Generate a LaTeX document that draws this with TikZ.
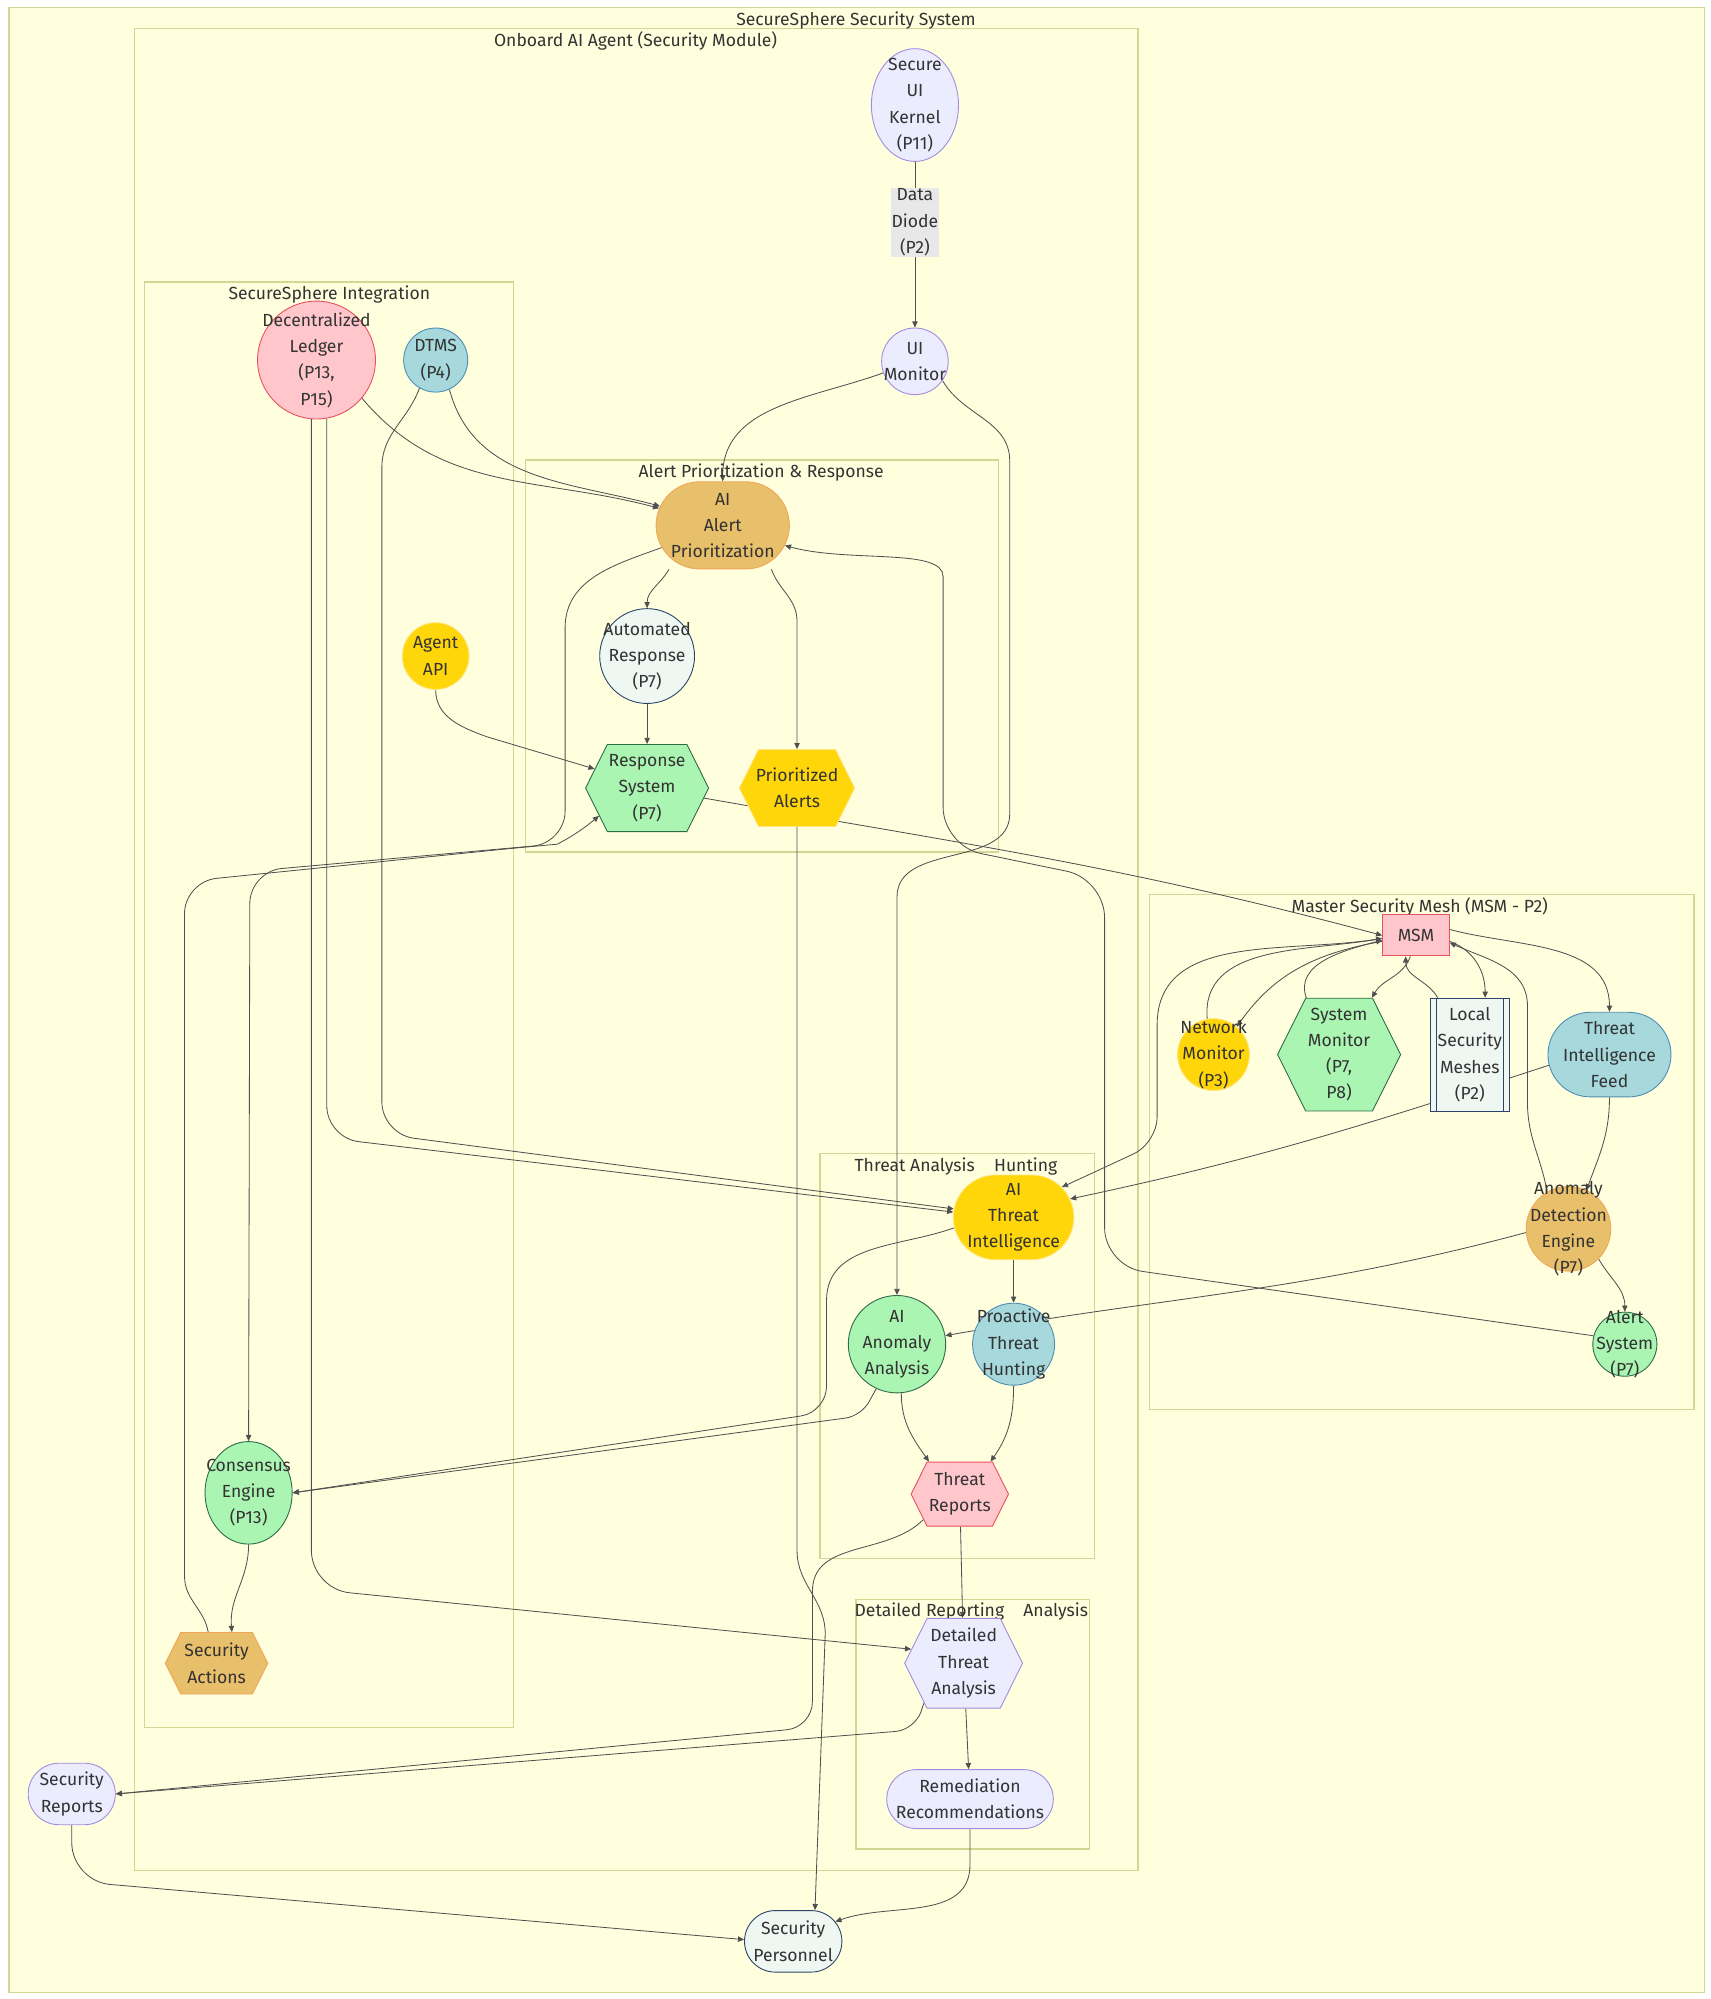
\documentclass[tikz,border=0pt]{standalone}
\usepackage{fontspec}
\setmainfont{Fira Sans}
\usetikzlibrary{shapes.geometric,shapes.misc,shapes.symbols,arrows.meta}

\definecolor{ink}{HTML}{333333}
\definecolor{wirecol}{HTML}{505050}
\definecolor{clfill}{HTML}{FFFFDE}
\definecolor{clline}{HTML}{D6D694}
\definecolor{lavfill}{HTML}{ECECFF}
\definecolor{lavline}{HTML}{A48BE0}
\definecolor{pinkfill}{HTML}{FFC7CC}
\definecolor{pinkline}{HTML}{E8505F}
\definecolor{bluefill}{HTML}{A6D8DC}
\definecolor{blueline}{HTML}{4F8DB3}
\definecolor{orfill}{HTML}{E8BF6A}
\definecolor{orline}{HTML}{F2A65A}
\definecolor{goldfill}{HTML}{FFD60A}
\definecolor{goldline}{HTML}{FFE57A}
\definecolor{grnfill}{HTML}{ABF5B3}
\definecolor{grnline}{HTML}{2F6B48}
\definecolor{hdfill}{HTML}{EFF7F2}
\definecolor{hdline}{HTML}{2B4468}
\definecolor{diodefill}{HTML}{E8E8E8}

\newcommand\dgfont{\fontsize{13.7}{20.5}\selectfont}
\pgfdeclarelayer{back}
\pgfdeclarelayer{wires}
\pgfsetlayers{back,wires,main}

\begin{document}
\begin{tikzpicture}[x=1pt,y=1pt,font=\dgfont,
    txt/.style={label={[text=ink,align=center,font=\dgfont]center:#1}},
    circ/.style={circle,inner sep=0pt,minimum size=#1},
    ellip/.style={ellipse,inner sep=0pt},
    stad/.style={rounded rectangle,inner sep=0pt},
    hexa/.style={signal,signal to=east and west,signal pointer angle=127,inner sep=0pt},
    box/.style={rectangle,inner sep=0pt},
    lav/.style={draw=lavline,fill=lavfill,line width=0.7pt},
    pink/.style={draw=pinkline,fill=pinkfill,line width=0.7pt},
    blue/.style={draw=blueline,fill=bluefill,line width=0.7pt},
    orng/.style={draw=orline,fill=orfill,line width=0.7pt},
    gold/.style={draw=goldline,fill=goldfill,line width=0.7pt},
    grn/.style={draw=grnline,fill=grnfill,line width=0.7pt},
    hd/.style={draw=hdline,fill=hdfill,line width=0.7pt},
    cluster/.style={draw=clline,fill=clfill,line width=1pt},
    ctitle/.style={text=ink,inner sep=0pt},
    diode/.style={fill=diodefill,text=ink,align=center,inner sep=0.5pt},
    wire/.style={draw=wirecol,line width=0.65pt,-{Triangle[length=4.8pt,width=4.2pt]}}
]
\useasboundingbox (0,0) rectangle (1335,1560);

\begin{pgfonlayer}{back}
    \fill[white] (0,0) rectangle (1335,1560);
    \draw[cluster] (7,5) rectangle (1330,1554);
    \draw[cluster] (105,100) rectangle (888,1538);
    \draw[cluster] (113,212) rectangle (401,1340);
    \draw[cluster] (410,895) rectangle (779,1201);
    \draw[cluster] (897,460) rectangle (1322,862);
    \draw[cluster] (640,344) rectangle (854,660);
    \draw[cluster] (668,117) rectangle (850,312);
\end{pgfonlayer}
\node[ctitle] (tsys) at (668,1544) {SecureSphere Security System};
\node[ctitle] (tagent) at (496,1528) {Onboard AI Agent (Security Module)};
\node[ctitle] (tinteg) at (257,1330) {SecureSphere Integration};
\node[ctitle] (talert) at (594,1191) {Alert Prioritization \& Response};
\node[ctitle] (tmesh) at (1108,852) {Master Security Mesh (MSM - P2)};
\node[ctitle] (thunt) at (746,650) {Threat Analysis\hspace{1.1em}Hunting};
\node[ctitle] (treport) at (758,302) {Detailed Reporting\hspace{1.1em}Analysis};

\node[ellip,lav,minimum width=68pt,minimum height=88pt,txt={Secure\\UI\\Kernel\\(P11)}] (kernel) at (714,1478) {};
\node[circ=52pt,lav,txt={UI\\Monitor}] (uimon) at (714,1278) {};
\node[circ=92pt,pink,txt={Decentralized\\Ledger\\(P13,\\P15)}] (ledger) at (247,1279) {};
\node[circ=50pt,blue,txt={DTMS\\(P4)}] (dtms) at (340,1279) {};
\node[stad,orng,minimum width=104pt,minimum height=68pt,txt={AI\\Alert\\Prioritization}] (aiap) at (564,1150) {};
\node[circ=74pt,hd,txt={Automated\\Response\\(P7)}] (autoresp) at (505,1048) {};
\node[circ=52pt,gold,txt={Agent\\API}] (agentapi) at (340,1048) {};
\node[hexa,grn,minimum width=96pt,minimum height=68pt,txt={Response\\System\\(P7)}] (respsys) at (505,945) {};
\node[hexa,gold,minimum width=90pt,minimum height=60pt,txt={Prioritized\\Alerts}] (pralerts) at (622,945) {};

\node[box,pink,minimum width=52pt,minimum height=32pt,txt={MSM}] (msm) at (1105,830) {};
\node[circ=56pt,gold,txt={Network\\Monitor\\(P3)}] (netmon) at (947,737) {};
\node[hexa,grn,minimum width=96pt,minimum height=88pt,txt={System\\Monitor\\(P7,\\P8)}] (sysmon) at (1045,737) {};
\node[box,hd,minimum width=62pt,minimum height=88pt,txt={Local\\Security\\Meshes\\(P2)}] (lsm) at (1147,737) {};
\draw[hdline,line width=0.7pt] ([xshift=5pt]lsm.north west) -- ([xshift=5pt]lsm.south west);
\draw[hdline,line width=0.7pt] ([xshift=-5pt]lsm.north east) -- ([xshift=-5pt]lsm.south east);
\node[stad,blue,minimum width=96pt,minimum height=66pt,txt={Threat\\Intelligence\\Feed}] (tif) at (1256,737) {};
\node[circ=66pt,orng,txt={Anomaly\\Detection\\Engine\\(P7)}] (ade) at (1224,601) {};
\node[circ=50pt,grn,txt={Alert\\System\\(P7)}] (alertsys) at (1268,511) {};

\node[stad,gold,minimum width=94pt,minimum height=66pt,txt={AI\\Threat\\Intelligence}] (aiti) at (791,610) {};
\node[circ=76pt,grn,txt={AI\\Anomaly\\Analysis}] (aiaa) at (700,511) {};
\node[circ=64pt,blue,txt={Proactive\\Threat\\Hunting}] (pth) at (791,511) {};
\node[hexa,pink,minimum width=76pt,minimum height=50pt,txt={Threat\\Reports}] (threatrep) at (749,394) {};

\node[ellip,grn,minimum width=68pt,minimum height=80pt,txt={Consensus\\Engine\\(P13)}] (consensus) at (194,395) {};
\node[hexa,orng,minimum width=80pt,minimum height=48pt,txt={Security\\Actions}] (secact) at (169,262) {};
\node[hexa,lav,minimum width=92pt,minimum height=70pt,txt={Detailed\\Threat\\Analysis}] (dta) at (752,262) {};
\node[stad,lav,minimum width=130pt,minimum height=46pt,txt={Remediation\\Recommendations}] (remed) at (757,156) {};
\node[stad,lav,minimum width=68pt,minimum height=48pt,txt={Security\\Reports}] (secrep) at (56,160) {};
\node[stad,hd,minimum width=76pt,minimum height=48pt,txt={Security\\Personnel}] (secpers) at (619,45) {};

\begin{pgfonlayer}{wires}
    \draw[wire] (kernel) -- node[diode,pos=0.365] (diode) {Data\\Diode\\(P2)} (uimon);
    \draw[wire] (uimon.200) to[out=200,in=90] (aiap.north);
    \draw[wire] (uimon.-35) to[out=-60,in=90] (788,1200) -- (788,925) to[out=-90,in=90] (700,860) -- (aiaa.north);
    \draw[wire] (ledger.-40) to[out=-50,in=165] (aiap.165);
    \draw[wire] (dtms.-65) to[out=-75,in=165] (aiap.163);
    \draw[wire,rounded corners=25] (ledger.-80) -- (255,672) -- (aiti.175);
    \draw[wire] (dtms.-120) to[out=-110,in=90] (298,1195) [rounded corners=25] -- (298,675) -- (aiti.172);
    \draw[wire,rounded corners=30] (ledger.-95) -- (243,320) -- (dta.165);
    \draw[wire] ([xshift=-42pt]aiap.south) to[out=-120,in=90] (autoresp.north);
    \draw[wire] ([xshift=38pt]aiap.south) to[out=-70,in=90] (622,1075) -- (pralerts.north);
    \draw[wire] (aiap.200) to[out=200,in=90] (441,1070) [rounded corners=25] -- (441,902) -- (195,880) -- (consensus.north);
    \draw[wire] (secact.105) to[out=100,in=-90] (144,330) [rounded corners=25] -- (144,872) -- (410,899) to[out=5,in=-140] (respsys.-150);
    \draw[wire] (agentapi.south) to[out=-90,in=160] (380,985) -- (respsys.160);
    \draw[wire] (autoresp) -- (respsys);
    \draw[wire] (respsys.-10) to[out=-10,in=165] (msm.west);
    \draw[wire] (pralerts.south) -- (622,350) to[out=-90,in=90] (644,285) -- ([xshift=17pt]secpers.north);
    \draw[wire] (threatrep.-145) to[out=-135,in=90] (634,318) [rounded corners=20] -- (634,212) -- (secrep.east);
    \draw[wire] (threatrep) -- (dta);
    \draw[wire] (dta) -- (remed);
    \draw[wire,rounded corners=15] (dta.-135) -- (714,210) -- (secrep.east);
    \draw[wire] (remed.south) -- (757,105) to[out=-90,in=20] (secpers.25);
    \draw[wire,rounded corners=30] (secrep.south) -- (56,92) -- (secpers.178);
    \draw[wire] (aiti) -- (pth);
    \draw[wire] (aiti.190) to[out=200,in=90] (645,545) [rounded corners=20] -- (645,458) -- (consensus.east);
    \draw[wire,rounded corners=12] (aiaa.-115) -- (672,455) -- (consensus.east);
    \draw[wire] (aiaa.-85) to[out=-90,in=125] ([xshift=-24pt]threatrep.north);
    \draw[wire] (pth.south) to[out=-90,in=55] ([xshift=24pt]threatrep.north);
    \draw[wire] (ade.185) to[out=195,in=10] (aiaa.10);
    \draw[wire] (ade.-45) to[out=-60,in=90] (alertsys.north);
    \draw[wire] (alertsys.165) [rounded corners=30] -- (862,572) -- (862,874) -- (736,900) -- (736,1080) to[out=90,in=-15] (aiap.-18);
    \draw[wire] (msm.-170) to[out=190,in=55] (netmon.50);
    \draw[wire] (netmon.100) to[out=95,in=190] (msm.-175);
    \draw[wire] (msm.-105) to[out=-110,in=60] (sysmon.60);
    \draw[wire] (sysmon.120) to[out=110,in=195] (msm.-172);
    \draw[wire] ([xshift=-25pt]lsm.north) to[out=120,in=-90] ([xshift=-8pt]msm.south);
    \draw[wire] (msm.-10) to[out=-20,in=90] ([xshift=12pt]lsm.north);
    \draw[wire] (ade.120) to[out=100,in=-90] (1192,700) -- (1192,775) to[out=90,in=-25] (msm.-12);
    \draw[wire] (msm.10) to[out=-15,in=90] (tif.north);
    \draw[wire] (msm.-175) to[out=190,in=90] (903,760) [rounded corners=20] -- (903,668) -- (aiti.32);
    \draw[wire] (tif.190) to[out=198,in=12] (aiti.18);
    \draw[wire] (tif.south) to[out=-90,in=70] (ade.65);
    \draw[wire] (consensus.south) to[out=-90,in=95] ([xshift=12pt]secact.north);
\end{pgfonlayer}
\end{tikzpicture}
\end{document}
